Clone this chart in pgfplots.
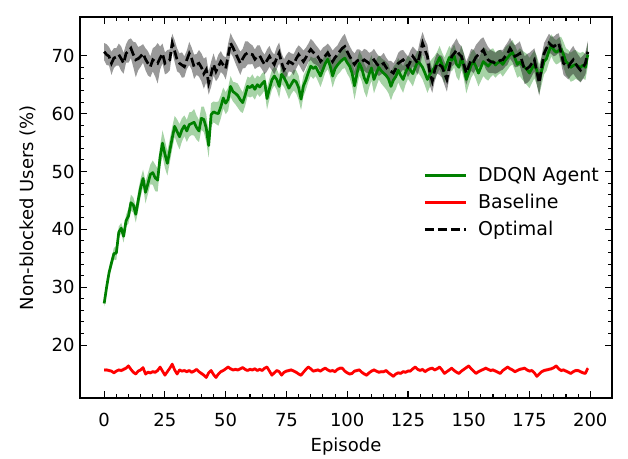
\documentclass[border=0pt]{standalone}
\usepackage{fontspec}
\setmainfont{DejaVu Sans}
\usepackage{pgfplots}
\pgfplotsset{compat=1.18}
\usepackage{pgfplotstable}
\usepgfplotslibrary{fillbetween}
\definecolor{mplgreen}{HTML}{008000}
\pgfplotstableread{
x g gs o os r rs
0 27.2 0.5 70.7 1.5 15.7 0.25
1 30.0 0.6 70.2 1.8 15.7 0.3
2 32.5 0.8 69.9 1.6 15.6 0.3
3 34.2 0.9 68.7 2.0 15.5 0.25
4 35.8 1.0 69.6 1.7 15.2 0.3
5 35.9 1.2 69.8 1.5 15.5 0.3
6 39.5 1.0 70.2 1.9 15.7 0.25
7 40.2 0.9 69.5 2.1 15.6 0.3
8 38.8 1.1 68.7 1.8 15.8 0.35
9 41.5 1.0 70.4 1.6 16.0 0.3
10 42.3 1.3 70.8 2.0 16.4 0.3
11 44.6 1.4 71.3 1.7 15.8 0.35
12 44.2 1.3 70.2 2.2 15.3 0.3
13 42.6 1.4 69.3 3.0 15.0 0.3
14 45.0 1.7 69.5 2.0 15.5 0.25
15 47.2 1.6 69.9 1.8 15.7 0.3
16 48.8 1.5 70.4 1.6 16.1 0.3
17 46.4 1.9 69.4 1.9 15.0 0.35
18 47.9 1.8 68.7 2.1 15.3 0.3
19 49.5 1.7 68.1 1.8 15.2 0.3
20 49.8 2.1 69.3 2.0 15.4 0.3
21 48.9 2.3 69.0 2.6 15.3 0.35
22 48.5 2.0 68.7 3.5 15.6 0.3
23 52.5 1.9 69.6 2.0 16.2 0.3
24 54.9 2.2 70.4 1.7 15.5 0.3
25 53.0 2.4 68.7 1.9 14.8 0.35
26 51.4 2.1 69.0 2.0 15.4 0.3
27 53.6 2.0 69.3 1.8 16.0 0.3
28 55.8 1.9 72.2 1.6 16.7 0.3
29 57.8 1.8 70.8 1.9 15.7 0.35
30 56.9 2.1 69.3 2.0 15.0 0.3
31 56.0 2.2 68.7 1.7 15.7 0.3
32 57.2 2.0 68.4 2.2 15.5 0.25
33 57.9 1.8 68.1 1.8 15.6 0.3
34 57.0 1.9 69.3 1.6 15.4 0.3
35 58.1 2.1 70.4 2.0 15.6 0.3
36 58.3 2.0 69.5 1.9 15.3 0.35
37 58.5 2.3 68.1 2.1 15.5 0.3
38 57.6 2.1 68.5 1.8 15.8 0.3
39 57.0 1.9 68.7 2.3 15.4 0.3
40 59.2 2.0 68.0 2.4 15.1 0.3
41 59.0 2.2 66.9 2.6 14.8 0.35
42 57.5 2.4 67.6 2.2 14.4 0.3
43 54.5 2.1 65.3 2.0 15.2 0.3
44 59.8 2.0 66.8 2.2 15.6 0.3
45 60.3 1.8 68.5 1.9 14.9 0.35
46 60.1 1.9 67.3 1.7 14.4 0.3
47 60.0 2.1 68.2 2.0 15.0 0.3
48 61.2 2.0 69.0 1.8 15.4 0.3
49 62.7 1.8 68.4 1.6 15.6 0.25
50 61.8 1.9 67.8 1.9 15.9 0.3
51 62.5 2.0 70.0 2.1 16.2 0.3
52 64.7 1.8 72.2 1.7 15.9 0.3
53 63.8 1.7 71.4 1.6 15.7 0.3
54 63.5 1.9 70.5 1.8 15.8 0.3
55 63.1 2.1 69.6 1.9 15.7 0.3
56 62.4 2.0 68.7 2.0 15.9 0.3
57 61.9 1.8 69.5 1.7 16.1 0.3
58 63.2 1.9 70.2 2.3 15.8 0.3
59 64.7 1.7 70.5 2.0 15.6 0.3
60 64.5 1.7 70.3 1.8 15.8 0.3
61 64.9 1.9 70.2 1.6 15.7 0.3
62 64.2 1.8 69.4 1.7 15.9 0.3
63 65.0 1.6 69.9 1.9 15.6 0.3
64 64.6 1.7 70.0 1.8 15.8 0.3
65 65.2 1.8 69.2 1.6 15.6 0.3
66 65.6 1.6 68.5 1.7 16.0 0.3
67 62.6 1.9 69.2 1.9 16.2 0.3
68 64.3 1.8 69.9 1.8 15.5 0.3
69 65.8 1.7 69.1 1.6 14.8 0.35
70 66.5 1.6 68.5 1.7 15.2 0.3
71 65.9 1.8 69.6 1.9 15.6 0.3
72 64.7 2.0 70.5 1.8 15.4 0.3
73 66.8 1.7 68.8 1.6 14.8 0.3
74 66.2 1.6 67.6 1.8 15.3 0.3
75 65.4 1.8 68.3 1.9 15.5 0.3
76 64.4 1.9 69.0 1.7 15.6 0.3
77 65.1 1.7 68.8 1.6 15.7 0.3
78 65.8 1.8 68.5 1.8 15.5 0.3
79 65.5 2.0 69.5 1.7 15.3 0.3
80 64.5 2.1 70.2 1.6 15.0 0.3
81 62.5 1.9 69.6 1.8 14.8 0.35
82 64.8 1.8 69.0 1.9 15.3 0.3
83 65.8 1.7 69.7 1.7 15.8 0.3
84 67.1 1.6 70.5 1.6 16.2 0.3
85 68.2 1.7 71.1 1.8 15.9 0.3
86 67.8 1.8 70.6 1.9 15.5 0.3
87 68.1 1.6 70.2 1.7 15.6 0.3
88 67.3 1.7 69.8 1.6 15.7 0.3
89 66.5 1.9 69.0 1.8 15.5 0.3
90 67.6 1.8 69.5 1.9 15.8 0.3
91 68.7 1.6 70.0 1.7 16.0 0.3
92 69.4 1.7 70.5 1.6 15.7 0.3
93 68.2 1.8 69.8 1.8 15.5 0.3
94 66.5 2.0 69.0 1.9 15.6 0.3
95 67.8 1.9 69.7 1.7 15.4 0.3
96 68.4 1.7 70.2 1.6 15.8 0.3
97 68.9 1.8 70.8 1.8 16.0 0.3
98 69.3 1.6 71.3 2.0 16.0 0.3
99 69.6 1.7 71.6 2.2 15.5 0.3
100 68.8 1.9 70.7 1.9 15.2 0.3
101 68.2 2.0 69.9 1.8 15.0 0.3
102 67.0 2.2 69.2 1.7 15.1 0.3
103 64.8 2.4 68.5 1.9 15.5 0.3
104 66.9 2.3 69.1 2.0 15.6 0.3
105 68.7 2.1 69.3 1.8 15.7 0.3
106 67.8 2.2 69.0 1.7 15.3 0.3
107 66.2 2.4 69.3 1.9 15.0 0.3
108 65.3 2.5 69.0 2.0 14.8 0.35
109 66.8 2.3 68.7 1.8 15.2 0.3
110 67.9 2.2 69.0 1.7 15.5 0.3
111 65.9 2.4 69.3 1.9 15.7 0.3
112 67.0 2.3 68.7 1.8 15.5 0.3
113 68.0 2.1 68.2 1.7 15.3 0.3
114 67.4 2.2 68.4 1.6 15.4 0.3
115 67.0 2.3 68.7 1.8 15.4 0.3
116 66.6 2.4 68.0 1.7 15.6 0.3
117 66.0 2.5 67.5 1.6 15.2 0.3
118 64.7 2.4 67.3 1.8 14.9 0.3
119 65.8 2.3 67.0 1.7 14.6 0.35
120 66.4 2.2 67.8 1.6 15.0 0.3
121 67.5 2.1 68.7 1.8 15.2 0.3
122 66.6 2.2 69.0 1.9 15.1 0.3
123 65.9 2.3 69.3 1.7 15.4 0.3
124 67.1 2.1 68.8 1.6 15.3 0.3
125 68.0 2.0 68.1 1.8 15.5 0.3
126 67.5 2.1 69.0 1.9 15.5 0.3
127 66.9 2.2 69.9 1.7 15.9 0.3
128 68.0 2.0 69.3 1.8 16.2 0.3
129 69.0 1.9 68.7 2.0 15.8 0.3
130 68.6 2.0 70.5 2.2 15.6 0.3
131 68.0 2.1 72.2 1.9 15.8 0.3
132 67.0 2.2 71.0 1.8 15.4 0.3
133 65.9 2.3 69.9 2.0 15.7 0.3
134 66.8 2.2 67.0 2.2 15.9 0.3
135 67.4 2.1 65.6 2.0 16.0 0.3
136 68.0 2.0 67.5 1.9 15.7 0.3
137 68.8 1.9 68.7 1.8 15.9 0.3
138 69.7 2.0 68.4 1.7 16.2 0.3
139 68.5 2.1 68.1 1.9 15.7 0.3
140 67.5 2.2 67.0 2.0 15.1 0.3
141 68.6 2.1 65.9 2.1 15.4 0.3
142 69.7 2.0 68.0 1.9 15.7 0.3
143 69.2 1.9 69.9 1.8 16.0 0.3
144 70.0 2.0 70.4 1.9 15.6 0.3
145 68.5 2.2 71.0 2.0 15.3 0.3
146 68.0 2.3 70.3 1.8 15.1 0.3
147 69.7 2.1 69.9 1.7 15.5 0.3
148 68.2 2.2 68.5 1.9 15.8 0.3
149 65.9 2.4 67.0 2.0 16.1 0.3
150 67.2 2.3 68.2 1.8 16.4 0.3
151 68.4 2.2 69.3 1.9 15.9 0.3
152 69.0 2.1 69.0 2.0 15.5 0.3
153 68.1 2.2 69.8 2.1 15.1 0.3
154 67.0 2.3 70.2 2.2 15.4 0.3
155 68.0 2.4 70.6 2.3 15.6 0.3
156 69.0 2.5 71.0 2.2 15.8 0.3
157 68.6 2.6 70.0 2.3 16.0 0.3
158 68.2 2.5 69.3 2.2 15.8 0.3
159 68.7 2.4 69.0 2.0 15.6 0.3
160 69.0 2.3 68.9 1.9 15.7 0.3
161 68.4 2.2 68.7 1.8 15.5 0.3
162 68.8 2.1 69.0 1.9 15.3 0.3
163 69.0 2.0 69.2 1.8 15.1 0.3
164 68.5 2.1 69.3 1.7 15.6 0.3
165 69.2 2.2 69.9 1.8 15.9 0.3
166 69.7 2.1 70.4 1.9 16.2 0.3
167 70.2 2.0 71.3 1.8 15.9 0.3
168 70.6 2.1 70.6 1.7 15.7 0.3
169 69.6 2.2 69.9 1.9 15.4 0.3
170 68.5 2.3 70.1 2.0 15.6 0.3
171 68.9 2.4 70.4 2.1 15.8 0.3
172 68.4 2.5 69.0 2.2 15.9 0.3
173 68.0 2.6 67.5 2.4 16.0 0.3
174 67.6 2.7 67.8 2.5 15.7 0.3
175 67.0 2.6 68.1 2.4 15.5 0.3
176 67.8 2.5 68.7 2.2 15.6 0.3
177 68.5 2.4 69.3 2.0 15.2 0.3
178 67.5 2.5 67.3 2.3 14.6 0.35
179 65.9 2.6 65.3 2.2 15.0 0.3
180 67.4 2.4 68.0 2.0 15.4 0.3
181 69.0 2.2 70.4 1.8 15.6 0.3
182 69.5 2.1 71.3 1.7 15.7 0.3
183 70.8 2.0 72.2 1.6 15.8 0.3
184 71.8 1.9 71.8 1.5 15.9 0.3
185 71.0 2.0 71.6 1.7 16.1 0.3
186 70.6 2.1 71.9 1.8 16.4 0.3
187 70.9 2.2 72.2 1.7 15.9 0.3
188 71.2 2.1 70.5 1.8 15.6 0.3
189 70.2 2.2 68.7 2.0 15.7 0.3
190 69.0 2.3 68.4 2.1 15.5 0.3
191 68.6 2.4 68.1 2.2 15.3 0.3
192 68.0 2.5 68.8 2.3 15.1 0.3
193 68.3 2.6 69.3 2.4 15.4 0.3
194 68.5 2.5 68.6 2.3 15.6 0.3
195 68.2 2.4 68.0 2.2 15.6 0.3
196 68.0 2.5 67.5 2.1 15.4 0.3
197 68.4 2.3 68.0 2.0 15.2 0.3
198 68.0 2.2 68.7 1.9 15.1 0.3
199 70.2 2.0 70.7 1.8 16.0 0.3
}\data
\begin{document}
\begin{tikzpicture}
\begin{axis}[
  name=ax,
  scale only axis, width=532pt, height=381pt,
  xmin=-9.95, xmax=208.95, ymin=10.85, ymax=76.7,
  xtick={0,25,...,200}, ytick={20,30,...,70},
  minor x tick num=4, minor y tick num=4,
  tick align=inside, xtick pos=both, ytick pos=both,
  major tick length=7pt, minor tick length=4pt,
  every tick/.style={black, line width=1.1pt},
  axis line style={line width=1.4pt},
  /pgf/number format/assume math mode=true,
  tick label style={font=\fontsize{18}{21}\selectfont},
  xticklabel style={yshift=-12pt},
  yticklabel style={xshift=-2pt},
  label style={font=\fontsize{18}{21}\selectfont},
  xlabel={Episode}, ylabel={Non-blocked Users (\%)},
  xlabel style={yshift=-4pt},
  ylabel style={yshift=9pt},
  legend style={draw=none, fill=none, at={(0.985,0.513)}, anchor=east,
    font=\fontsize{19}{22}\selectfont, row sep=7pt,
    /tikz/every odd column/.append style={column sep=9pt}},
  legend cell align=left,
  legend image code/.code={\draw[#1] (0pt,0pt) -- (41pt,0pt);},
]
\addplot[name path=gu, draw=none, forget plot] table[x=x, y expr=\thisrow{g}+\thisrow{gs}] {\data};
\addplot[name path=gl, draw=none, forget plot] table[x=x, y expr=\thisrow{g}-\thisrow{gs}] {\data};
\addplot[fill=mplgreen, fill opacity=0.35, draw=none, forget plot] fill between[of=gu and gl];
\addplot[name path=ru, draw=none, forget plot] table[x=x, y expr=\thisrow{r}+\thisrow{rs}] {\data};
\addplot[name path=rl, draw=none, forget plot] table[x=x, y expr=\thisrow{r}-\thisrow{rs}] {\data};
\addplot[fill=red, fill opacity=0.3, draw=none, forget plot] fill between[of=ru and rl];
\addplot[name path=ou, draw=none, forget plot] table[x=x, y expr=\thisrow{o}+\thisrow{os}] {\data};
\addplot[name path=ol, draw=none, forget plot] table[x=x, y expr=\thisrow{o}-\thisrow{os}] {\data};
\addplot[fill=black, fill opacity=0.4, draw=none, forget plot] fill between[of=ou and ol];
\addplot[mplgreen, line width=2.7pt, line join=round] table[x=x, y=g] {\data};
\addlegendentry{DDQN Agent}
\addplot[red, line width=2.7pt, line join=round] table[x=x, y=r] {\data};
\addlegendentry{Baseline}
\addplot[black, line width=2.7pt, dash pattern=on 9pt off 4pt] table[x=x, y=o] {\data};
\addlegendentry{Optimal}
\end{axis}
\pgfresetboundingbox
\path ([shift={(-80pt,-60pt)}]ax.south west) rectangle ([shift={(16pt,17pt)}]ax.north east);
\end{tikzpicture}
\end{document}
